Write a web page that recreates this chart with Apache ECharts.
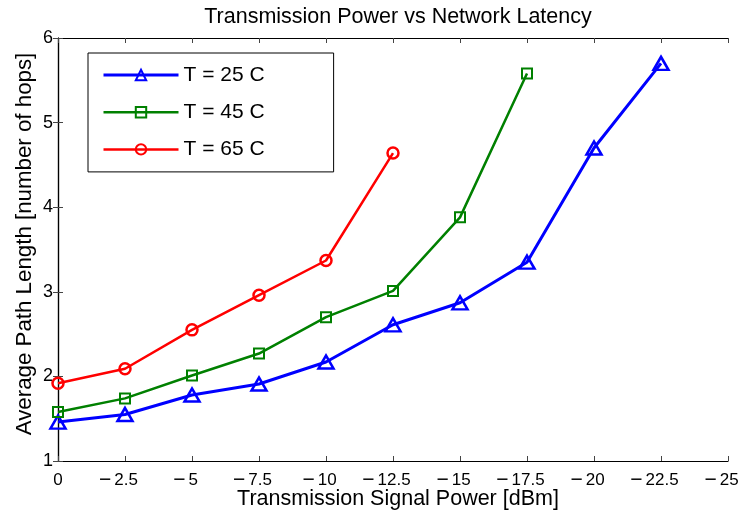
<!DOCTYPE html>
<html>
<head>
<meta charset="utf-8">
<script src="https://cdn.jsdelivr.net/npm/echarts@6/dist/echarts.min.js"></script>
<style>
html,body{margin:0;padding:0;background:#fff;}
#chart{width:741px;height:518px;}
</style>
</head>
<body>
<div id="chart"></div>
<script>
var xValues = [0, -2.5, -5, -7.5, -10, -12.5, -15, -17.5, -20, -22.5];
var seriesNames = ['T = 25 C', 'T = 45 C', 'T = 65 C'];
var t25 = [1.46, 1.55, 1.78, 1.91, 2.17, 2.61, 2.87, 3.35, 4.70, 5.70];
var t45 = [1.58, 1.74, 2.01, 2.27, 2.70, 3.01, 3.88, 5.58];
var t65 = [1.92, 2.09, 2.55, 2.96, 3.37, 4.64];
var titleText = 'Transmission Power vs Network Latency';
var xName = 'Transmission Signal Power [dBm]';
var yName = 'Average Path Length [number of hops]';

function pairs(ys){ return ys.map(function(v,i){ return [xValues[i], v]; }); }
var FONT = 'Liberation Sans, Arial, Helvetica, sans-serif';
function fmtX(v){
  if (v < 0) return '{m|\u2212}{n|' + String(-v) + '}';
  return '{d|' + String(v) + '}';
}

var chart = echarts.init(document.getElementById('chart'));
var axisLine = {show:true, lineStyle:{color:'#000', width:1.2}};
var tick = {show:true, inside:true, length:5, lineStyle:{color:'#444', width:1}};
var lineWidths = [3, 2.5, 2.5];
chart.setOption({
  animation:false,
  backgroundColor:'#fff',
  title:{text:titleText, left:393, textAlign:'center', top:1,
    textStyle:{fontFamily:FONT, fontSize:21.5, fontWeight:'normal', color:'#000'}},
  grid:{left:58, right:13, top:38, bottom:57, containLabel:false, outerBoundsMode:'none'},
  legend:{
    orient:'vertical', left:88, top:53,
    data:seriesNames.map(function(n,i){ return {name:n, lineStyle:{width:lineWidths[i]}}; }),
    itemWidth:75, itemHeight:13, itemGap:16.2,
    padding:[11.5, 69, 12, 14],
    borderColor:'#000', borderWidth:1, backgroundColor:'#fff',
    textStyle:{fontFamily:FONT, fontSize:21, color:'#000'}
  },
  xAxis:[{
    type:'value', min:-25, max:0, interval:2.5, inverse:true,
    name:xName, nameLocation:'middle', nameGap:27, nameMoveOverlap:false,
    nameTextStyle:{fontFamily:FONT, fontSize:21.5, color:'#000', padding:[0,0,0,10]},
    axisLine:axisLine, axisTick:tick, splitLine:{show:false},
    axisLabel:{fontFamily:FONT, fontSize:17, color:'#000', margin:9, formatter:fmtX,
      rich:{
        m:{fontFamily:FONT, fontSize:21, lineHeight:20, color:'#000', padding:[0,3,0,0]},
        n:{fontFamily:FONT, fontSize:17, lineHeight:20, color:'#000', padding:[0,13,0,0]},
        d:{fontFamily:FONT, fontSize:17, lineHeight:20, color:'#000'}
      }}
  },{
    type:'value', min:-25, max:0, interval:2.5, inverse:true, position:'top',
    axisLine:axisLine, axisTick:tick, splitLine:{show:false}, axisLabel:{show:false}
  }],
  yAxis:[{
    type:'value', min:1, max:6, interval:1,
    name:yName, nameLocation:'middle', nameGap:22, nameMoveOverlap:false,
    nameTextStyle:{fontFamily:FONT, fontSize:22.3, color:'#000', padding:[0,0,0,11]},
    axisLine:axisLine, axisTick:tick, splitLine:{show:false},
    axisLabel:{fontFamily:FONT, fontSize:18, color:'#000', margin:5}
  },{
    type:'value', min:1, max:6, interval:1, position:'right',
    axisLine:axisLine, axisTick:tick, splitLine:{show:false}, axisLabel:{show:false}
  }],
  series:[
    {name:seriesNames[0], type:'line', data:pairs(t25), symbol:'triangle', symbolSize:[15,13],
      lineStyle:{color:'#0000ff', width:lineWidths[0]}, itemStyle:{color:'rgba(0,0,0,0)', borderColor:'#0000ff', borderWidth:2.5},
      emphasis:{disabled:true}, z:3},
    {name:seriesNames[1], type:'line', data:pairs(t45), symbol:'rect', symbolSize:10,
      lineStyle:{color:'#008000', width:lineWidths[1]}, itemStyle:{color:'rgba(0,0,0,0)', borderColor:'#008000', borderWidth:2},
      emphasis:{disabled:true}, z:3},
    {name:seriesNames[2], type:'line', data:pairs(t65), symbol:'circle', symbolSize:11,
      lineStyle:{color:'#ff0000', width:lineWidths[2]}, itemStyle:{color:'rgba(0,0,0,0)', borderColor:'#ff0000', borderWidth:2.5},
      emphasis:{disabled:true}, z:3}
  ]
});
</script>
</body>
</html>
